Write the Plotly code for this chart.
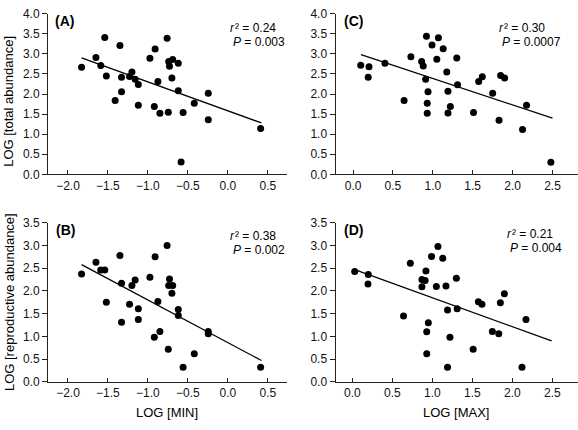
import plotly.graph_objects as go

# ---------------- data ----------------
a_x = [-1.83, -1.65, -1.54, -1.59, -1.52, -1.35, -1.33, -1.33, -1.41, -1.23, -1.20, -1.16,
       -1.12, -1.12, -0.975, -0.91, -0.875, -0.92, -0.85, -0.76, -0.74, -0.73, -0.69, -0.70,
       -0.62, -0.62, -0.745, -0.56, -0.585, -0.42, -0.245, -0.245, 0.41]
a_y = [2.67, 2.91, 3.41, 2.71, 2.45, 3.21, 2.42, 2.06, 1.84, 2.44, 2.55, 2.37,
       2.24, 1.72, 2.89, 3.12, 2.31, 1.69, 1.52, 3.39, 2.81, 2.69, 2.86, 2.40,
       2.77, 2.08, 1.55, 1.54, 0.31, 1.77, 2.02, 1.36, 1.14]
a_fit_x = [-1.83, 0.42]
a_fit_y = [2.90, 1.28]

b_x = [-1.83, -1.65, -1.59, -1.54, -1.52, -1.35, -1.33, -1.33, -1.23, -1.20, -1.16, -1.12,
       -1.12, -0.975, -0.91, -0.875, -0.92, -0.85, -0.76, -0.73, -0.74, -0.69, -0.70, -0.62,
       -0.62, -0.745, -0.56, -0.42, -0.245, -0.245, 0.41]
b_y = [2.37, 2.63, 2.46, 2.46, 1.75, 2.78, 2.17, 1.31, 1.71, 2.12, 2.24, 1.61,
       1.37, 2.30, 2.75, 1.77, 0.98, 1.11, 3.00, 2.26, 2.12, 2.12, 1.95, 1.59,
       1.46, 0.72, 0.32, 0.62, 1.11, 1.06, 0.32]
b_fit_x = [-1.83, 0.42]
b_fit_y = [2.58, 0.47]

c_x = [0.096, 0.20, 0.19, 0.40, 0.64, 0.725, 0.86, 0.88, 0.92, 0.91, 0.94, 0.93, 0.93,
       0.99, 1.07, 1.05, 1.13, 1.175, 1.19, 1.19, 1.22, 1.30, 1.31, 1.51, 1.575, 1.62,
       1.75, 1.85, 1.90, 1.83, 2.175, 2.125, 2.48]
c_y = [2.72, 2.68, 2.42, 2.77, 1.84, 2.93, 2.81, 2.70, 3.44, 2.37, 2.06, 1.77, 1.52,
       3.22, 3.40, 2.87, 3.13, 2.55, 2.07, 1.53, 1.69, 2.90, 2.23, 1.54, 2.31, 2.43,
       2.02, 2.46, 2.40, 1.35, 1.72, 1.12, 0.30]
c_fit_x = [0.10, 2.50]
c_fit_y = [2.98, 1.40]

d_x = [0.03, 0.20, 0.196, 0.64, 0.725, 0.87, 0.87, 0.91, 0.92, 0.99, 0.95, 0.93, 0.93,
       1.07, 1.05, 1.13, 1.17, 1.19, 1.22, 1.19, 1.30, 1.31, 1.51, 1.575, 1.62, 1.75,
       1.83, 1.85, 1.90, 2.17, 2.12]
d_y = [2.43, 2.36, 2.15, 1.45, 2.61, 2.09, 2.25, 2.23, 2.44, 2.76, 1.30, 1.10, 0.62,
       2.98, 2.10, 2.72, 2.11, 1.58, 0.98, 0.32, 2.28, 1.61, 0.72, 1.76, 1.71, 1.11,
       1.06, 1.74, 1.94, 1.37, 0.32]
d_fit_x = [0.03, 2.49]
d_fit_y = [2.47, 0.90]

panel_labels = ["(A)", "(B)", "(C)", "(D)"]
stats_r2 = ["0.24", "0.38", "0.30", "0.21"]
stats_p = ["0.003", "0.002", "0.0007", "0.004"]
y_titles = ["LOG [total abundance]", "LOG [reproductive abundance]"]
x_titles = ["LOG [MIN]", "LOG [MAX]"]

# ---------------- layout helpers ----------------
W, H = 578, 430
def px(x):
    return x / W
def py(y):
    return 1 - y / H

FONT = "Liberation Sans, Arial, sans-serif"
AX = "#222222"

fig = go.Figure()

panels = [
    (a_x, a_y, a_fit_x, a_fit_y, "x", "y"),
    (b_x, b_y, b_fit_x, b_fit_y, "x2", "y2"),
    (c_x, c_y, c_fit_x, c_fit_y, "x3", "y3"),
    (d_x, d_y, d_fit_x, d_fit_y, "x4", "y4"),
]
for xs, ys, fx, fy, xa, ya in panels:
    fig.add_trace(go.Scatter(x=fx, y=fy, mode="lines", xaxis=xa, yaxis=ya,
                             line=dict(color="black", width=1.3), showlegend=False,
                             hoverinfo="skip"))
    fig.add_trace(go.Scatter(x=xs, y=ys, mode="markers", xaxis=xa, yaxis=ya,
                             marker=dict(color="black", size=7), showlegend=False))

def xaxis(domain, rng, dtick, anchor):
    return dict(domain=domain, range=rng, anchor=anchor, dtick=dtick, tick0=0,
                showgrid=False, zeroline=False, showline=True, linecolor=AX, linewidth=1,
                ticks="inside", ticklen=4, tickcolor=AX, tickformat=".1f",
                tickfont=dict(family=FONT, size=12, color="#111"))

def yaxis(domain, rng, anchor):
    return dict(domain=domain, range=rng, anchor=anchor, dtick=0.5, tick0=0,
                showgrid=False, zeroline=False, showline=True, linecolor=AX, linewidth=1,
                ticks="outside", ticklen=5, tickcolor=AX, tickformat=".1f",
                tickfont=dict(family=FONT, size=12, color="#111"))

xl = [px(48), px(287)]
xr = [px(335.5), 1.0]
yt = [py(173), py(7)]
yb = [py(387.5), py(223)]

fig.update_layout(
    width=W, height=H,
    margin=dict(l=0, r=0, t=0, b=0),
    paper_bgcolor="white", plot_bgcolor="white",
    xaxis=xaxis(xl, [-2.25, 0.74], 0.5, "y"),
    yaxis=yaxis(yt, [0, 4.0], "x"),
    xaxis2=xaxis(xl, [-2.25, 0.74], 0.5, "y2"),
    yaxis2=yaxis(yb, [0, 3.5], "x2"),
    xaxis3=xaxis(xr, [-0.22, 2.82], 0.5, "y3"),
    yaxis3=yaxis(yt, [0, 4.0], "x3"),
    xaxis4=xaxis(xr, [-0.21, 2.82], 0.5, "y4"),
    yaxis4=yaxis(yb, [0, 3.5], "x4"),
)

def note(x, y, text, xanchor="left", size=12, italic=False, bold=False, angle=0):
    return dict(x=px(x), y=py(y), xref="paper", yref="paper", text=text,
                showarrow=False, xanchor=xanchor, yanchor="middle", textangle=angle,
                borderpad=0, borderwidth=0,
                font=dict(family=FONT, size=size, color="black",
                          style="italic" if italic else "normal",
                          weight="bold" if bold else "normal"))

ann = []
for lab, (x, y) in zip(panel_labels, [(55, 14), (56, 231), (344, 14), (344, 230)]):
    ann.append(note(x, y, lab, size=14, bold=True))
for r2, p, (x, y) in zip(stats_r2, stats_p, [(231, 22), (231, 237), (500, 22), (508, 235)]):
    ann.append(note(x + 4, y, "r", xanchor="right", italic=True))
    ann.append(note(x + 4, y, "\u00b2 = %s" % r2))
    ann.append(note(x + 10, y + 14, "P", xanchor="right", italic=True))
    ann.append(note(x + 10, y + 14, " = %s" % p))
for t, y in zip(y_titles, [98, 305]):
    ann.append(note(9, y, t, xanchor="center", size=13, angle=-90))
for t, x in zip(x_titles, [167, 456]):
    ann.append(note(x, 419, t, xanchor="center", size=13))
fig.update_layout(annotations=ann)

fig.write_html("out.html", config={"displayModeBar": False},
               post_script="document.body.style.margin='0';document.body.style.overflow='hidden';")
